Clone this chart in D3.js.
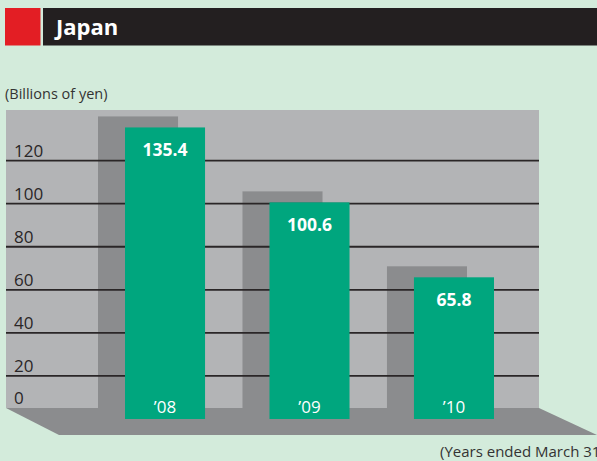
<!DOCTYPE html>
<html>
<head>
<meta charset="utf-8">
<script src="https://cdn.jsdelivr.net/npm/d3@7"></script>
<style>
  body { margin: 0; background: #d3ebdb; }
  svg { display: block; font-family: 'Open Sans', sans-serif; }
</style>
</head>
<body>
<div id="chart"></div>
<script>
// data
let years = ['\u201908', '\u201909', '\u201910'];
let values = [135.4, 100.6, 65.8];
let valueLabels = ['135.4', '100.6', '65.8'];
let ticks = [0, 20, 40, 60, 80, 100, 120];

let width = 597;
let height = 461;

// back wall and floor
let wall = {left: 6, right: 539, top: 110, bottom: 408};
let floorFront = 435;
let depth = {dx: 27, dy: 11};

let svg = d3.select('#chart')
    .append('svg')
    .attr('width', width)
    .attr('height', height);

svg.append('rect')
    .attr('width', width)
    .attr('height', height)
    .attr('fill', '#d3ebdb');

// header bar
svg.append('rect').attr('x', 5).attr('y', 8).attr('width', 35.5).attr('height', 37.5).attr('fill', '#e31e24');
svg.append('rect').attr('x', 43).attr('y', 8).attr('width', width - 43).attr('height', 37.5).attr('fill', '#231f20');
svg.append('text')
    .attr('x', 56).attr('y', 35)
    .attr('fill', '#fff')
    .style('font-size', '22px')
    .style('font-weight', 'bold')
    .text('Japan');

svg.append('text')
    .attr('x', 5).attr('y', 99)
    .attr('fill', '#333')
    .style('font-size', '14.5px')
    .text('(Billions of yen)');

let x = d3.scaleBand()
    .domain(years)
    .range([125, 494])
    .paddingInner(0.446)
    .paddingOuter(0);

let y = d3.scaleLinear()
    .domain([0, 120])
    .range([419, 160.6]);

// wall
svg.append('rect')
    .attr('x', wall.left).attr('y', wall.top)
    .attr('width', wall.right - wall.left)
    .attr('height', wall.bottom - wall.top)
    .attr('fill', '#b3b4b6');

// bar shadows on the wall
svg.selectAll('.shadow')
    .data(values)
    .enter()
    .append('rect')
        .attr('class', 'shadow')
        .attr('x', (d, i) => x(years[i]) - depth.dx)
        .attr('y', d => y(d) - depth.dy)
        .attr('width', x.bandwidth())
        .attr('height', d => y(0) - y(d))
        .attr('fill', '#8b8c8e');

// grid lines
svg.selectAll('.grid')
    .data(ticks.filter(t => t > 0))
    .enter()
    .append('line')
        .attr('x1', wall.left).attr('x2', wall.right)
        .attr('y1', d => y(d)).attr('y2', d => y(d))
        .attr('stroke', '#2a2627')
        .attr('stroke-width', 1.8);

svg.selectAll('.tick-label')
    .data(ticks)
    .enter()
    .append('text')
        .attr('x', 14)
        .attr('y', d => Math.min(y(d) - 4, wall.bottom - 4))
        .attr('fill', '#2a2627')
        .style('font-size', '17px')
        .text(d => d);

// floor
svg.append('polygon')
    .attr('points', [
        [wall.left, wall.bottom],
        [wall.right, wall.bottom],
        [597, floorFront],
        [59, floorFront]
    ].map(p => p.join(',')).join(' '))
    .attr('fill', '#8b8c8e');

// bars
svg.selectAll('.bar')
    .data(values)
    .enter()
    .append('rect')
        .attr('class', 'bar')
        .attr('x', (d, i) => x(years[i]))
        .attr('y', d => y(d))
        .attr('width', x.bandwidth())
        .attr('height', d => y(0) - y(d))
        .attr('fill', '#00a67e');

svg.selectAll('.value')
    .data(values)
    .enter()
    .append('text')
        .attr('x', (d, i) => x(years[i]) + x.bandwidth() / 2)
        .attr('y', d => y(d) + 29)
        .attr('text-anchor', 'middle')
        .attr('fill', '#fff')
        .style('font-size', '17.5px')
        .style('font-weight', 'bold')
        .text((d, i) => valueLabels[i]);

svg.selectAll('.year')
    .data(years)
    .enter()
    .append('text')
        .attr('x', d => x(d) + x.bandwidth() / 2)
        .attr('y', y(0) - 6)
        .attr('text-anchor', 'middle')
        .attr('fill', '#fff')
        .style('font-size', '17px')
        .text(d => d);

svg.append('text')
    .attr('x', 440).attr('y', 457)
    .attr('fill', '#333')
    .style('font-size', '15px')
    .text('(Years ended March 31)');
</script>
</body>
</html>
